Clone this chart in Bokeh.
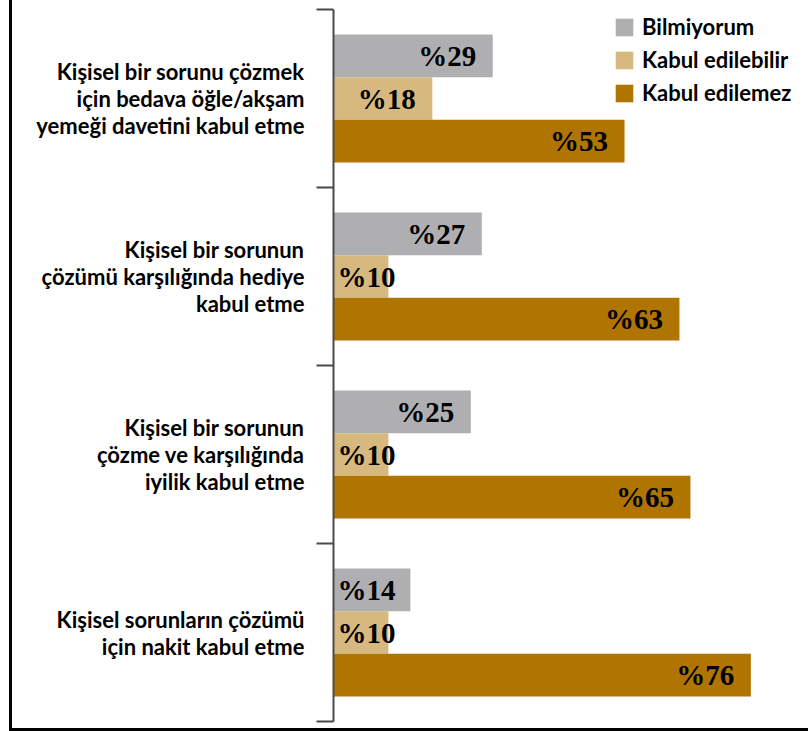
from bokeh.plotting import figure
from bokeh.models import (Range1d, FixedTicker, ColumnDataSource, Legend,
                          LegendItem, InlineStyleSheet)
from bokeh.core.properties import value
from bokeh.embed import file_html
from bokeh.resources import INLINE

categories = [
    "Kişisel bir sorunu çözmek\niçin bedava öğle/akşam\nyemeği davetini kabul etme",
    "Kişisel bir sorunun\nçözümü karşılığında hediye\nkabul etme",
    "Kişisel bir sorunun\nçözme ve karşılığında\niyilik kabul etme",
    "Kişisel sorunların çözümü\niçin nakit kabul etme",
]
series_names = ["Bilmiyorum", "Kabul edilebilir", "Kabul edilemez"]
bilmiyorum = [29, 27, 25, 14]
kabul_edilebilir = [18, 10, 10, 10]
kabul_edilemez = [53, 63, 65, 76]
colors = ["#AFAFB2", "#D7B97F", "#B07400"]

series = [bilmiyorum, kabul_edilebilir, kabul_edilemez]
offsets = [-0.24, 0.0, 0.24]
bar_h = 0.24
x_max = 86.5

frame_css = InlineStyleSheet(css="""
:host::after {
  content: "";
  position: absolute;
  left: 9px;
  top: 0px;
  width: 796px;
  height: 728px;
  border-left: 3px solid #000;
  border-bottom: 3px solid #000;
  box-sizing: content-box;
  pointer-events: none;
}
""")

p = figure(width=808, height=731, output_backend="svg", toolbar_location=None,
           x_range=Range1d(0, x_max), y_range=Range1d(len(categories), 0),
           x_axis_location=None, y_axis_location="left",
           min_border_left=333, min_border_right=0,
           min_border_top=9, min_border_bottom=10,
           stylesheets=[frame_css])
p.grid.visible = False
p.outline_line_color = None
p.background_fill_color = "white"
p.border_fill_color = "white"

ax = p.yaxis[0]
centers = [i + 0.5 for i in range(len(categories))]
ax.ticker = FixedTicker(ticks=centers, minor_ticks=list(range(len(categories) + 1)))
ax.major_label_overrides = {c: lab for c, lab in zip(centers, categories)}
ax.major_tick_out = 0
ax.major_tick_in = 0
ax.major_tick_line_color = None
ax.minor_tick_out = 17
ax.minor_tick_in = 0
ax.minor_tick_line_width = 2
ax.minor_tick_line_color = "#4a4a4a"
ax.axis_line_width = 2
ax.axis_line_color = "#4a4a4a"
ax.major_label_standoff = 12
ax.major_label_text_font = "Lato"
ax.major_label_text_font_style = "bold"
ax.major_label_text_font_size = "22px"
ax.major_label_text_color = "#000000"
ax.major_label_text_line_height = 1.0

renderers = []
for vals, off, col in zip(series, offsets, colors):
    ys = [c + off for c in centers]
    lx = [max(v - 3.0, 11.3) for v in vals]
    src = ColumnDataSource(dict(y=ys, right=vals, lx=lx,
                                t=["%" + str(v) for v in vals]))
    r = p.hbar(y="y", left=0, right="right", height=bar_h, source=src,
               fill_color=col, line_color=None)
    renderers.append(r)
    p.text(x="lx", y="y", text="t", source=src, text_align="right",
           text_baseline="middle", text_font=value("Liberation Serif"),
           text_font_style="bold", text_font_size="29px", text_color="black")

legend = Legend(items=[LegendItem(label=n, renderers=[r]) for n, r in zip(series_names, renderers)],
                location=(280, 615), glyph_width=22, glyph_height=22, spacing=6,
                label_standoff=7, padding=0, margin=0, border_line_color=None,
                background_fill_alpha=0, label_text_font="Lato",
                label_text_font_style="bold", label_text_font_size="22px",
                label_height=22, label_text_color="#000000")
p.add_layout(legend)

open("out.html", "w").write(file_html(p, INLINE))
